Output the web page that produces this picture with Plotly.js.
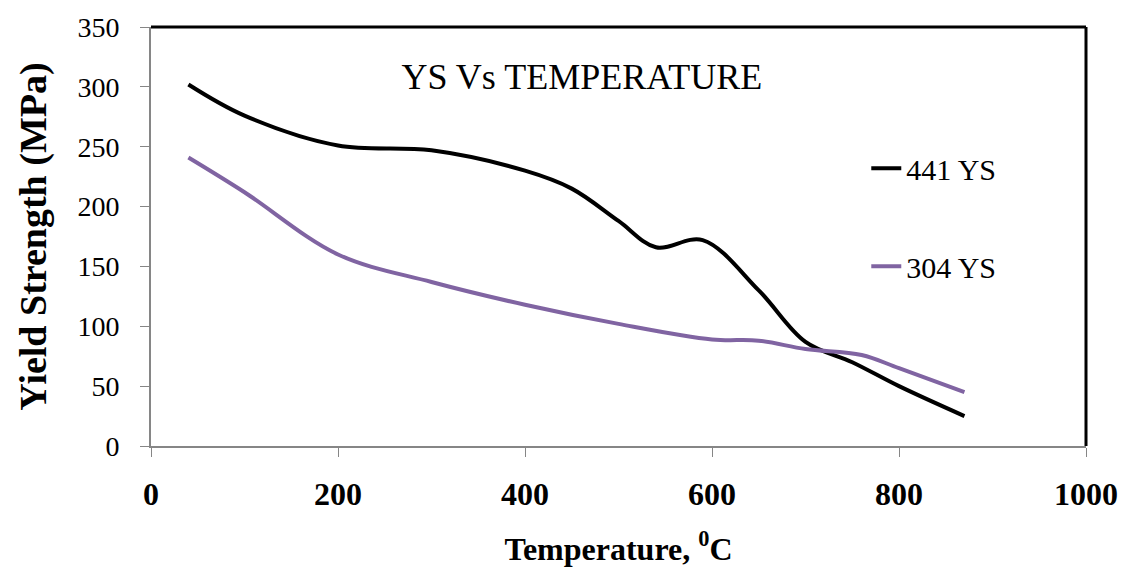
<!DOCTYPE html>
<html>
<head>
<meta charset="utf-8">
<script src="https://cdn.plot.ly/plotly-3.0.1.min.js"></script>
<style>html,body{margin:0;padding:0;background:#fff;}#chart{width:1132px;height:567px;}</style>
</head>
<body>
<div id="chart"></div>
<script>
// Data
var temp441 = [40, 100, 200, 300, 400, 450, 500, 540, 590, 650, 700, 750, 800, 870];
var ys441   = [302, 276, 251, 247, 230, 215, 188, 166, 172, 130, 87, 70, 50, 25];
var temp304 = [40, 100, 200, 300, 400, 500, 600, 650, 700, 760, 800, 870];
var ys304   = [241, 212, 160, 137, 118, 102, 89, 88, 81, 76, 65, 45];
var seriesNames = ["441 YS", "304 YS"];
var xTicks = [0, 200, 400, 600, 800, 1000];
var yTicks = [0, 50, 100, 150, 200, 250, 300, 350];

var serif = "Liberation Serif, Times New Roman, serif";

var traces = [
  {x: temp441, y: ys441, name: seriesNames[0], mode: "lines", legendgroup: "a",
   line: {color: "#000000", width: 4, shape: "spline", smoothing: 1}},
  {x: temp304, y: ys304, name: seriesNames[1], mode: "lines", legendgroup: "b",
   line: {color: "#8064A2", width: 4, shape: "spline", smoothing: 1}}
];

var layout = {
  width: 1132, height: 567,
  margin: {l: 151, r: 46, t: 27, b: 121, pad: 0},
  paper_bgcolor: "#ffffff", plot_bgcolor: "#ffffff",
  font: {family: serif, color: "#000000"},
  title: {text: "YS Vs TEMPERATURE", font: {family: serif, size: 36, color: "#000"},
          x: 0.514, xanchor: "center", xref: "container",
          y: 0.866, yanchor: "middle", yref: "container"},
  showlegend: true,
  legend: {x: 0.765, y: 0.725, xanchor: "left", yanchor: "top", bgcolor: "rgba(0,0,0,0)",
           font: {family: serif, size: 30, color: "#000"}, tracegroupgap: 56, traceorder: "grouped"},
  xaxis: {
    range: [0, 1000], tickvals: xTicks, ticktext: xTicks.map(String),
    showgrid: false, zeroline: false, showline: true, linecolor: "#868686", linewidth: 2,
    ticks: "outside", ticklen: 9, tickwidth: 1, tickcolor: "#868686",
    tickfont: {family: serif, size: 32, weight: "bold", color: "#000"},
    ticklabelstandoff: 10,
    title: {text: "Temperature, <sup>0</sup>C", font: {family: serif, size: 32, weight: "bold", color: "#000"}, standoff: 26},
    fixedrange: true
  },
  yaxis: {
    range: [0, 350], tickvals: yTicks, ticktext: yTicks.map(String),
    showgrid: false, zeroline: false, showline: true, linecolor: "#868686", linewidth: 2,
    ticks: "outside", ticklen: 9, tickwidth: 1, tickcolor: "#868686",
    tickfont: {family: serif, size: 28, color: "#000"},
    ticklabelstandoff: 15,
    title: {text: "Yield Strength (MPa)", font: {family: serif, size: 38, weight: "bold", color: "#000"}, standoff: 19},
    fixedrange: true
  },
  shapes: [
    {type: "line", xref: "paper", yref: "paper", x0: 0, x1: 1, y0: 1, y1: 1, line: {color: "#000", width: 3}},
    {type: "line", xref: "paper", yref: "paper", x0: 1, x1: 1, y0: 0, y1: 1, line: {color: "#000", width: 3}}
  ]
};

Plotly.newPlot("chart", traces, layout, {displayModeBar: false, staticPlot: true});
</script>
</body>
</html>
